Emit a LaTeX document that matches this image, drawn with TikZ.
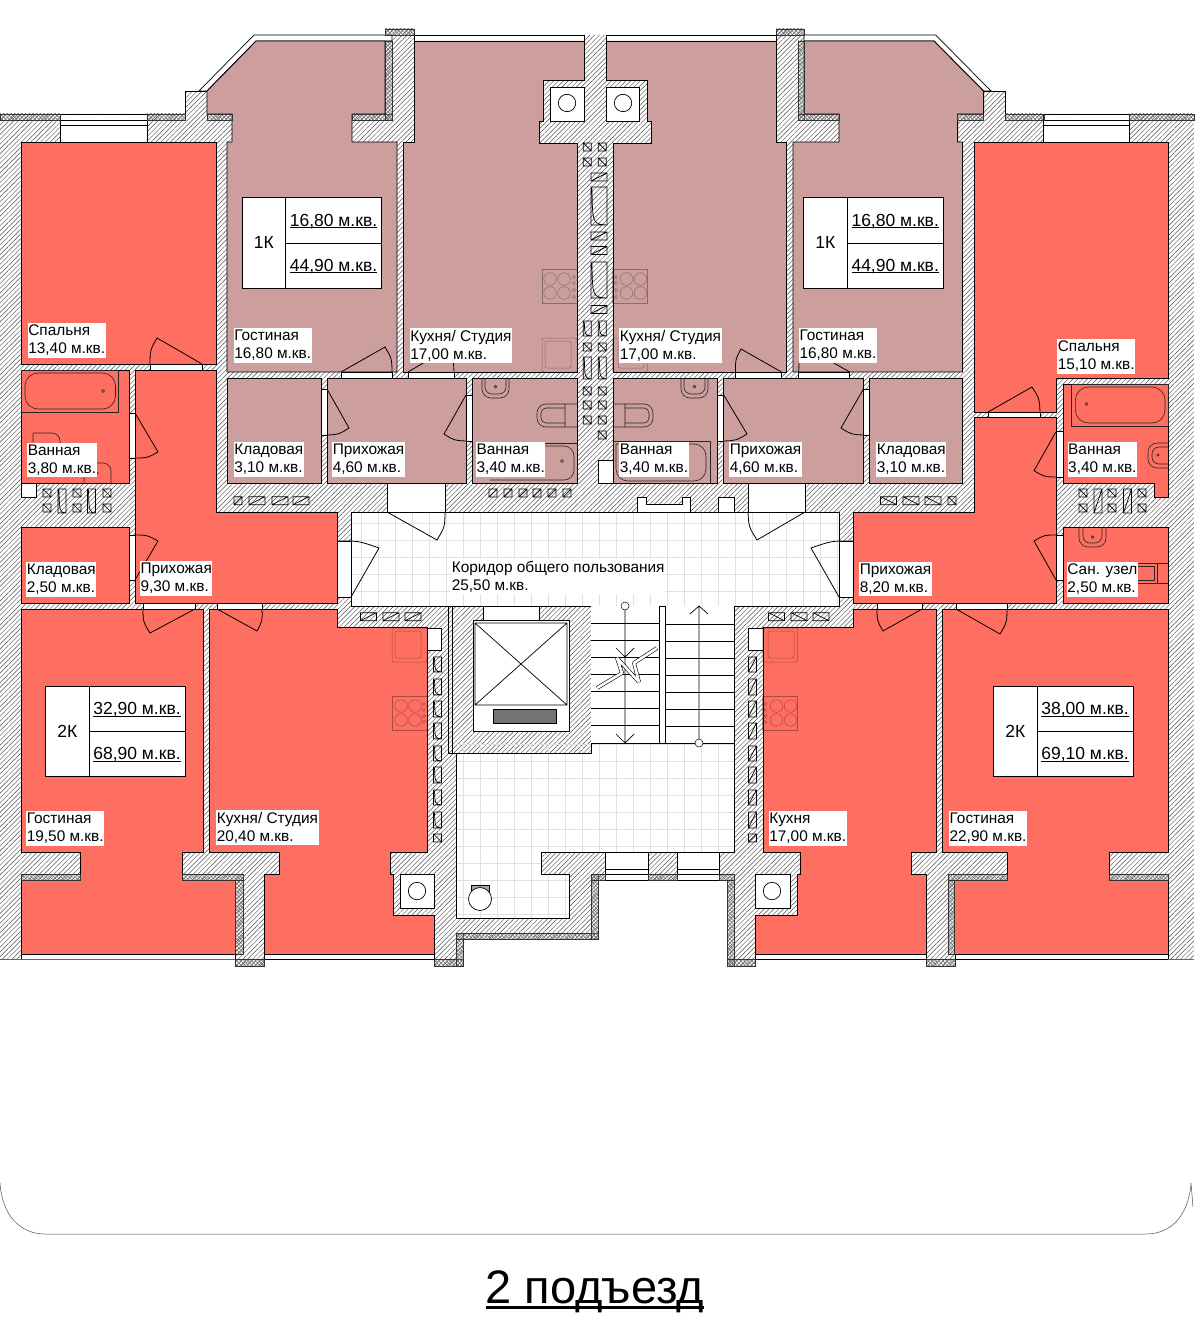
\documentclass[tikz,border=0pt]{standalone}
\usepackage{fontspec}
\setmainfont{Liberation Sans}
\usetikzlibrary{calc,patterns.meta}
\definecolor{flatpink}{HTML}{CC9E9E}
\definecolor{flatred}{HTML}{FE6F61}
\tikzset{
  wallhatch/.style={pattern={Lines[angle=45,distance=3.4pt,line width=.45pt]},pattern color=black!70},
  brick/.style={pattern={Hatch[angle=45,distance=2.6pt,line width=.5pt]},pattern color=black!55,draw=black!80,line width=.4pt},
  roompink/.style={fill=flatpink,draw=black,line width=.9pt},
  roomred/.style={fill=flatred,draw=black,line width=.9pt},
  opening/.style={fill=white,draw=black,line width=.7pt},
  doorline/.style={draw=black,line width=.8pt},
  ventline/.style={draw=black,line width=.7pt},
  fixture/.style={draw=black!85,line width=.6pt},
  kitchenware/.style={draw=black,draw opacity=.32,line width=.5pt},
  floorgrid/.style={draw=black!12,line width=.4pt},
  roomlabel/.style={fill=white,anchor=north west,align=left,inner xsep=.6pt,inner ysep=2pt,yshift=-1pt,
    font=\fontsize{15.4}{18}\selectfont},
  flatcell/.style={fill=white,draw=black,line width=.8pt,inner sep=0pt,outer sep=0pt,anchor=north west,
    font=\fontsize{17.5}{20}\selectfont},
}
\newcommand{\door}[3]{\draw[doorline] #1 -- #2 .. controls ($#1!1.07!($#2!.5!#3$)$) .. #3;}
\newcommand{\areatext}[1]{\smash{\raisebox{-5.7pt}{\underline{\smash{#1}}}}}
\newcommand{\flatinfo}[6]{
  \node[flatcell,minimum width=43.5,minimum height=90.5] (#1type) at (#2,#3) {#4};
  \node[flatcell,minimum width=96,minimum height=45.25] (#1live) at (#1type.north east) {\areatext{#5}};
  \node[flatcell,minimum width=96,minimum height=45.25] (#1full) at (#1live.south west) {\areatext{#6}};
}
\newcommand{\stove}[3]{
  \draw[kitchenware] (#1,#2) rectangle (#1+35,#2+34);
  \foreach \sx in {0,14}
    \foreach \sy in {10,24}
      \draw[kitchenware] (#1+#3+\sx,#2+\sy) circle (6.3pt);
}
\begin{document}
\begin{tikzpicture}[x=1pt,y=-1pt]
\useasboundingbox (0,0) rectangle (1194,1327);

% walls
\path[wallhatch] (0,114) -- (185,114) -- (185,91) -- (207,91) -- (256,41) -- (385,41) -- (385,29) -- (414,29) -- (414,41)
  -- (584,41) -- (584,35) -- (606,35) -- (606,41) -- (776,41) -- (776,29) -- (804,29) -- (804,41) -- (934,41) -- (983.6,91)
  -- (1005,91) -- (1005,114) -- (1194,114) -- (1194,959) -- (955,959) -- (955,966) -- (926,966) -- (926,959) -- (755,959)
  -- (755,966) -- (727,966) -- (727,880) -- (598,880) -- (598,939) -- (463,939) -- (463,966) -- (434,966) -- (434,959)
  -- (264,959) -- (264,966) -- (235,966) -- (235,959) -- (0,959) -- cycle;
\draw[line width=.8pt] (0,114) -- (185,114) -- (185,91) -- (207,91) (983.6,91) -- (1005,91) -- (1005,114) -- (1194,114);

% glazing
\draw[opening] (199,91) -- (254,35) -- (392,35) -- (392,41) -- (256,41) -- (207,91) -- cycle;
\draw[opening] (804,35) -- (935.7,35) -- (991,91) -- (983.6,91) -- (934,41) -- (804,41) -- cycle;
\draw[opening] (414,35) rectangle (584,41);
\draw[opening] (606,35) rectangle (776,41);
\foreach \wx/\wz in {21/235,264/434,755/926,955/1168}
  \draw[opening] (\wx,954) rectangle (\wz,959);
\draw[line width=.6pt,black!60] (0,959) -- (235,959) (1168,959) -- (1194,959);

% windows
\foreach \wx/\wz in {60/147,1043.7/1129}
  \draw[opening] (\wx,114) rectangle (\wz,142) (\wx,120) -- (\wz,120) (\wx,125) -- (\wz,125);
\foreach \wx/\wz in {605/648,677/719}
  \draw[opening] (\wx,852) rectangle (\wz,880) (\wx,869) -- (\wz,869) (\wx,874) -- (\wz,874);

% flats upstairs
\path[roompink] (256,41) -- (385,41) -- (385,114) -- (352,114) -- (352,142) -- (397,142) -- (397,372) -- (227,372) -- (227,142) -- (232,142) -- (232,114) -- (207,114) -- (207,91) -- cycle;
\path[roompink] (414,41) -- (584,41) -- (584,80) -- (543,80) -- (543,121) -- (539,121) -- (539,143) -- (577,143) -- (577,372) -- (403,372) -- (403,142) -- (414,142) -- cycle;
\path[roompink] (606,41) -- (776,41) -- (776,142) -- (786.5,142) -- (786.5,372) -- (613,372) -- (613,143) -- (651,143) -- (651,121) -- (647,121) -- (647,80) -- (606,80) -- cycle;
\path[roompink] (804,41) -- (934,41) -- (983.6,91) -- (983.6,114) -- (957.6,114) -- (957.6,142) -- (962.5,142) -- (962.5,372) -- (793,372) -- (793,142) -- (839,142) -- (839,114) -- (804,114) -- cycle;
\foreach \rx/\rz in {227/321,327/466,472/577,613/717.6,723.7/863.4,869.5/962.5}
  \path[roompink] (\rx,378) rectangle (\rz,483);

% flats on the sides
\path[roomred] (21,142) rectangle (216,364);
\path[roomred] (21,370) rectangle (129,483);
\path[roomred] (21,527) rectangle (129,603);
\path[roomred] (135,370) -- (216,370) -- (216,512) -- (337,512) -- (337,603) -- (135,603) -- cycle;
\path[roomred] (21,609) -- (203,609) -- (203,852) -- (182,852) -- (182,880) -- (235,880) -- (235,954) -- (21,954) -- (21,880) -- (80,880) -- (80,852) -- (21,852) -- cycle;
\path[roomred] (209,609) -- (337,609) -- (337,627) -- (427,627) -- (427,852) -- (390,852) -- (390,874) -- (393,874) -- (393,915) -- (434,915) -- (434,954) -- (264,954) -- (264,874) -- (279,874) -- (279,852) -- (209,852) -- cycle;
\path[roomred] (974,142) -- (1168,142) -- (1168,378) -- (1056,378) -- (1056,412) -- (974,412) -- cycle;
\path[roomred] (1063,384) -- (1168,384) -- (1168,497) -- (1154,497) -- (1154,483) -- (1063,483) -- cycle;
\path[roomred] (1063,527) rectangle (1168,603);
\path[roomred] (974,417) -- (1056,417) -- (1056,603) -- (853.5,603) -- (853.5,512) -- (974,512) -- cycle;
\path[roomred] (763,627) -- (853.5,627) -- (853.5,609) -- (936.5,609) -- (936.5,852) -- (911.6,852) -- (911.6,874) -- (926,874) -- (926,954) -- (755.5,954) -- (755.5,915) -- (797,915) -- (797,874) -- (800,874) -- (800,852) -- (763,852) -- cycle;
\path[roomred] (942,609) -- (1168,609) -- (1168,852) -- (1109,852) -- (1109,880) -- (1168,880) -- (1168,954) -- (954.5,954) -- (954.5,880) -- (1007,880) -- (1007,852) -- (942,852) -- cycle;

% masonry
\foreach \bx/\by/\bu/\bv in {0/114/60/120,147/114/185/120,207/114/232/120,352/114/392/120,385/41/392/120,385/29/414/35,
  776/29/804/35,798/41/804/120,798/114/839/120,957.6/114/983.6/120,1005/114/1043.7/120,1129/114/1194/120,
  21/874/80/880,182/874/243/880,235/880/243/954,235/959/264/966,434/959/463/966,456/933/463/966,456/933/598/939,
  591/874/598/939,591/874/605/880,648/874/677/880,719/874/734/880,727/880/734/966,727/959/755/966,926/959/955/966,
  948/874/1007/880,948/880/954.5/954,1109/874/1168/880}
  \draw[brick] (\bx,\by) rectangle (\bu,\bv);

% public floor
\path[fill=white] (351,512) rectangle (839,606);
\path[fill=white] (456,753) -- (591,753) -- (591,743) -- (734,743) -- (734,852) -- (541,852) -- (541,874) -- (569,874) -- (569,918) -- (456,918) -- cycle;
\begin{scope}
  \clip (351,512) rectangle (839,606) (456,743) rectangle (734,852) (456,852) rectangle (541,918) (541,874) rectangle (569,918);
  \foreach \gx in {361,378,...,840}
    \draw[floorgrid] (\gx,512) -- (\gx,918);
  \foreach \gy in {523,540,...,918}
    \draw[floorgrid] (351,\gy) -- (839,\gy);
\end{scope}
\draw[line width=.8pt] (351,512) rectangle (839,606);
\draw[line width=.8pt] (456,753) -- (456,918) -- (569,918) -- (569,874) -- (541,874) -- (541,852) -- (734,852) -- (734,606);

% lift
\draw[line width=.8pt] (448,606) -- (448,753) -- (591,753) -- (591,606) (452,606) -- (452,753);
\draw[opening] (483,606) rectangle (539,620);
\draw[opening,fill=white] (473,620) rectangle (569,731);
\draw[line width=.7pt] (475,623) rectangle (567,705) (475,623) -- (567,705) (475,705) -- (567,623);
\draw[fill=black!55,line width=.7pt] (493,709) rectangle (556,723);

% stairs
\path[fill=white] (591,606) rectangle (734,743);
\draw[line width=.8pt] (591,743) -- (734,743) -- (734,606) (659,606) rectangle (665,743);
\foreach \ty in {623,640,657,674,691,708,725}
  \draw[line width=.7pt] (591,\ty) -- (659,\ty) (665,\ty+1) -- (734,\ty+1);
\draw[line width=.7pt] (625,610) -- (625,743) (616,734) -- (625,743) -- (634,734) (616,648) -- (625,657) -- (634,648);
\draw[line width=.7pt] (699,739) -- (699,606) (690,614) -- (699,606) -- (708,614);
\draw[line width=.5pt,fill=white] (625,606) circle (4pt) (699,743) circle (4pt);
\draw[double=white,double distance=2.6pt,line width=.6pt,line join=bevel] (597,688) -- (622,673) -- (617,658) -- (639,682) -- (634,663) -- (657,648);

% lobby bowl
\draw[fill=black!35,line width=.6pt] (471,885) rectangle (489,893);
\draw[fill=white,line width=.7pt] (480,899) circle (11.5pt);

% openings and doors
\foreach \ox/\oy/\ou/\ov in {150/364/202/370,129/413/135/458,129/535/135/580,143/603/195/609,217/603/262/609,
  341/372/392/378,408/372/454/378,321/389/327/435,466/395/472/441,735.6/372/781.5/378,798.7/372/849.6/378,
  717.6/395/723.7/441,863.4/389/869.5/435,988/412/1040/417,1056/431.7/1063/477,1056/535/1063/580,877/603/922/609,
  956/603/1007/609,387/483/445/512,748/483/805/512,337/541/351/597,839/541/853.5/597,
  21/483/36/497,598/460/613/483,718/497/734/512,427/628/441/650,748/628/763/650}
  \draw[opening] (\ox,\oy) rectangle (\ou,\ov);
\draw[opening] (637,512) -- (637,497) -- (646,497) -- (646,504) -- (682,504) -- (682,497) -- (690,497) -- (690,512) -- cycle;
\door{(202,364)}{(157,338)}{(150,364)}
\door{(135,413)}{(158,452)}{(135,458)}
\door{(135,580)}{(158,541)}{(135,535)}
\door{(195,609)}{(150,633)}{(143,609)}
\door{(217,609)}{(257,631)}{(262,609)}
\door{(341,372)}{(385,347)}{(392,372)}
\door{(408,372)}{(447,349)}{(454,372)}
\door{(327,389)}{(349,428)}{(327,435)}
\door{(466,395)}{(444,434)}{(466,441)}
\door{(781.5,372)}{(741,349)}{(735.6,372)}
\door{(849.6,372)}{(806,347)}{(798.7,372)}
\door{(723.7,395)}{(747,434)}{(723.7,441)}
\door{(863.4,389)}{(841,428)}{(863.4,435)}
\door{(988,412)}{(1032,387)}{(1040,412)}
\door{(1056,431.7)}{(1034,470.7)}{(1056,477)}
\door{(1056,580)}{(1034,541)}{(1056,535)}
\door{(922,609)}{(883,631)}{(877,609)}
\door{(956,609)}{(1000,634)}{(1007,609)}
\door{(387,512)}{(437,540)}{(445,512)}
\door{(805,512)}{(757,540)}{(748,512)}
\door{(351,597)}{(379,548)}{(337,541)}
\door{(839,597)}{(811,548)}{(853.5,541)}

% chimneys
\foreach \cx/\cy/\cu/\cv/\px/\py in {550/87/584/121/567/103,606/87/639/121/623/103,400/874/434/908/417/891,755.5/874/790/908/772/891}
{
  \draw[opening] (\cx,\cy) rectangle (\cu,\cv);
  \draw[line width=.7pt] (\px,\py) circle (8.7pt);
}
\draw[line width=.8pt] (584,80) -- (543,80) -- (543,121) -- (539,121) -- (539,143) -- (577,143) (606,80) -- (647,80) -- (647,121) -- (651,121) -- (651,143) -- (613,143);

% vents
\foreach \vx/\vy/\vw/\vh in {587.3/147/8/8,602.3/147/8/8,587.3/162/8/8,602.3/162/8/8,
  587.3/347/8/8,602.3/347/8/8,587.3/391/8/8,602.3/391/8/8,587.3/405/8/8,602.3/405/8/8,
  587.3/420/8/8,602.3/420/8/8,602.3/435/8/8,
  47/493/8/8,77/493/8/8,107/493/8/8,47/508/8/8,77/508/8/8,107/508/8/8,
  1083/493/8/8,1112/493/8/8,1142/493/8/8,1083/508/8/8,1112/508/8/8,1142/508/8/8,
  437.5/838/8/8,
  776.5/616.7/16/8,799/616.7/16/8,821/616.7/16/8,888.5/500.7/16/8,911/500.7/16/8,933/500.7/16/8,952/500.7/8/8}
  \draw[ventline] (\vx-\vw/2,\vy-\vh/2) rectangle (\vx+\vw/2,\vy+\vh/2) (\vx-\vw/2,\vy-\vh/2) -- (\vx+\vw/2,\vy+\vh/2);
\foreach \vx/\vy/\vw/\vh in {587.3/328.5/8/15,602.3/328.5/8/15,587.3/368/8/22,602.3/368/8/22,599/206/16/38,599/280/16/36,
  62/501/8/24,91.5/501/8/24,
  437.5/664.5/8/15,437.5/687/8/16,437.5/709/8/16,437.5/731/8/16,437.5/753.5/8/15,437.5/775/8/16,437.5/797.5/8/15,437.5/820/8/16}
  \draw[ventline] (\vx-\vw/2,\vy-\vh/2) rectangle (\vx+\vw/2,\vy+\vh/2)
    (\vx-\vw/2+1,\vy-\vh/2+1) .. controls (\vx-\vw/2+1.5,\vy+\vh/2-1) .. (\vx+\vw/2,\vy+\vh/2);
\foreach \vx/\vy/\vw/\vh in {599/177/16/8,599/236/16/8,599/250.5/16/8,599/309.5/16/8,
  493/493/8/8,508/493/8/8,523/493/8/8,537/493/8/8,552/493/8/8,567/493/8/8,
  238/500.7/8/8,257/500.7/16/8,280/500.7/16/8,301/500.7/16/8,368.5/616.7/16/8,391/616.7/16/8,413/616.7/16/8,
  1098/501/8/24,1127.5/501/8/24,
  752.4/664.5/8/15,752.4/687/8/16,752.4/709/8/16,752.4/731/8/16,752.4/753.5/8/15,752.4/775/8/16,752.4/797.5/8/15,752.4/820/8/16,752.4/838/8/8}
  \draw[ventline] (\vx-\vw/2,\vy-\vh/2) rectangle (\vx+\vw/2,\vy+\vh/2) (\vx-\vw/2,\vy+\vh/2) -- (\vx+\vw/2,\vy-\vh/2);

% kitchens
\stove{542}{269}{8}
\stove{612.5}{269}{14}
\stove{392}{696}{9}
\stove{762.5}{696}{14}
\foreach \kx/\ky/\px/\py in {542/338/545/341,612.5/338/618/341,392/628/395/631,762.5/628/768/631}
  \draw[kitchenware,rounded corners=2] (\kx,\ky) rectangle (\kx+35,\ky+34) (\px,\py) rectangle (\px+26,\py+27);
\foreach \px/\py in {574/277,574/283,574/290,574/297,616/277,616/283,616/290,616/297,424/704,424/710,424/716,424/722,765.5/704,765.5/710,765.5/716,765.5/722}
  \draw[kitchenware] (\px,\py) circle (1.6pt);

% baths
\draw[fixture] (21,370) rectangle (118,412);
\draw[fixture,rounded corners=13] (40,373) -- (115.5,373) -- (115.5,409) -- (25,409) -- (25,373) -- (40,373);
\draw[fixture] (103,391) circle (1.5pt);
\draw[fixture,rounded corners=8] (33,433) -- (33,442) (33,433) -- (60,433) -- (60,445);
\draw[fixture,rounded corners=8] (84,483) -- (84,463) -- (111,463) -- (111,483);
\draw[fixture] (97,473) circle (1.3pt);
\draw[fixture] (1071.6,384) rectangle (1168,426);
\draw[fixture,rounded corners=13] (1090,387) -- (1165,387) -- (1165,423) -- (1075.4,423) -- (1075.4,387) -- (1090,387);
\draw[fixture] (1086.5,404) circle (1.5pt);
\draw[fixture,rounded corners=9] (1168,443) -- (1148,443) -- (1148,468) -- (1168,468);
\draw[fixture,rounded corners=7] (1168,447) -- (1152,447) -- (1152,464) -- (1168,464);
\draw[fixture] (1158,455) circle (1.3pt);
\draw[fixture,rounded corners=9] (1079,527) -- (1079,547) -- (1106,547) -- (1106,527);
\draw[fixture,rounded corners=7] (1083,527) -- (1083,543) -- (1102,543) -- (1102,527);
\draw[fixture] (1092.7,537) circle (1.3pt);
\draw[fixture] (1135.5,563) -- (1168,563) (1135.5,583) -- (1168,583) (1157,563) -- (1157,583) (1135.5,566) rectangle (1154,580);
\foreach \sx in {482,681}
{
  \draw[fixture,rounded corners=9] (\sx,378) -- (\sx,398) -- (\sx+27,398) -- (\sx+27,378);
  \draw[fixture,rounded corners=7] (\sx+3,378) -- (\sx+3,394) -- (\sx+24,394) -- (\sx+24,378);
  \draw[fixture] (\sx+13.5,386.7) circle (1.3pt);
}
\draw[fixture,rounded corners=9] (577,404) -- (537,404) -- (537,427) -- (577,427) (565,404) -- (565,427);
\draw[fixture,rounded corners=5] (565,408) -- (541,408) -- (541,423) -- (565,423);
\draw[fixture,rounded corners=9] (613,404) -- (653,404) -- (653,427) -- (613,427) (625,404) -- (625,427);
\draw[fixture,rounded corners=5] (625,408) -- (649,408) -- (649,423) -- (625,423);
\draw[fixture] (480,443) -- (577,443);
\draw[fixture,rounded corners=10] (490,446) -- (574,446) -- (574,480) -- (490,480);
\draw[fixture] (562,461) circle (1.5pt);
\draw[fixture] (613,441) -- (710,441) -- (710,483);
\draw[fixture,rounded corners=12] (616,444) -- (616,481) -- (706,481) -- (706,444) -- (616,444);

% room names
\node[roomlabel] (bedroomA) at (27.5,322) {Спальня\\13,40 м.кв.};
\node[roomlabel] (livingA) at (233.5,327) {Гостиная\\16,80 м.кв.};
\node[roomlabel] (studioA) at (409.5,327) {Кухня/ Студия\\17,00 м.кв.};
\node[roomlabel] (studioB) at (619,327) {Кухня/ Студия\\17,00 м.кв.};
\node[roomlabel] (livingB) at (798.7,327) {Гостиная\\16,80 м.кв.};
\node[roomlabel] (bedroomB) at (1057,337.7) {Спальня\\15,10 м.кв.};
\node[roomlabel] (bathA) at (27,441.7) {Ванная\\3,80 м.кв.};
\node[roomlabel] (storeA) at (233.5,441) {Кладовая\\3,10 м.кв.};
\node[roomlabel] (hallA) at (332,441) {Прихожая\\4,60 м.кв.};
\node[roomlabel] (bathB) at (475.7,441) {Ванная\\3,40 м.кв.};
\node[roomlabel] (bathC) at (619,441) {Ванная\\3,40 м.кв.};
\node[roomlabel] (hallB) at (729,441) {Прихожая\\4,60 м.кв.};
\node[roomlabel] (storeB) at (876,441) {Кладовая\\3,10 м.кв.};
\node[roomlabel] (bathD) at (1067.4,441) {Ванная\\3,40 м.кв.};
\node[roomlabel] (storeC) at (26,561) {Кладовая\\2,50 м.кв.};
\node[roomlabel] (hallC) at (139.7,560) {Прихожая\\9,30 м.кв.};
\node[roomlabel] (corridor) at (451,558) {Коридор общего пользования\\25,50 м.кв.};
\node[roomlabel] (hallD) at (859,560.5) {Прихожая\\8,20 м.кв.};
\node[roomlabel] (wcroom) at (1066.6,561) {Сан. узел\\2,50 м.кв.};
\node[roomlabel] (livingC) at (26,810) {Гостиная\\19,50 м.кв.};
\node[roomlabel] (studioC) at (216,809) {Кухня/ Студия\\20,40 м.кв.};
\node[roomlabel] (kitchenD) at (768.5,810) {Кухня\\17,00 м.кв.};
\node[roomlabel] (livingD) at (948.8,810) {Гостиная\\22,90 м.кв.};

% flat tables
\flatinfo{oneA}{242}{197.7}{1К}{16,80 м.кв.}{44,90 м.кв.}
\flatinfo{oneB}{803.7}{197.7}{1К}{16,80 м.кв.}{44,90 м.кв.}
\flatinfo{twoA}{45.5}{686.3}{2К}{32,90 м.кв.}{68,90 м.кв.}
\flatinfo{twoB}{993.5}{686.3}{2К}{38,00 м.кв.}{69,10 м.кв.}

% footer
\draw[black!70,line width=.5pt] (0,1183) .. controls (2,1215) and (20,1234) .. (45,1234) -- (1146,1234) .. controls (1172,1234) and (1189,1214) .. (1191,1183) (1191,1183) -- (1193,1207);
\node[inner sep=0pt,anchor=base,font=\fontsize{47}{50}\selectfont] (title) at (595,1303) {2 подъезд};
\draw[line width=2.4pt] ($(title.base west)+(0,4.5)$) -- ($(title.base east)+(0,4.5)$);
\end{tikzpicture}
\end{document}
